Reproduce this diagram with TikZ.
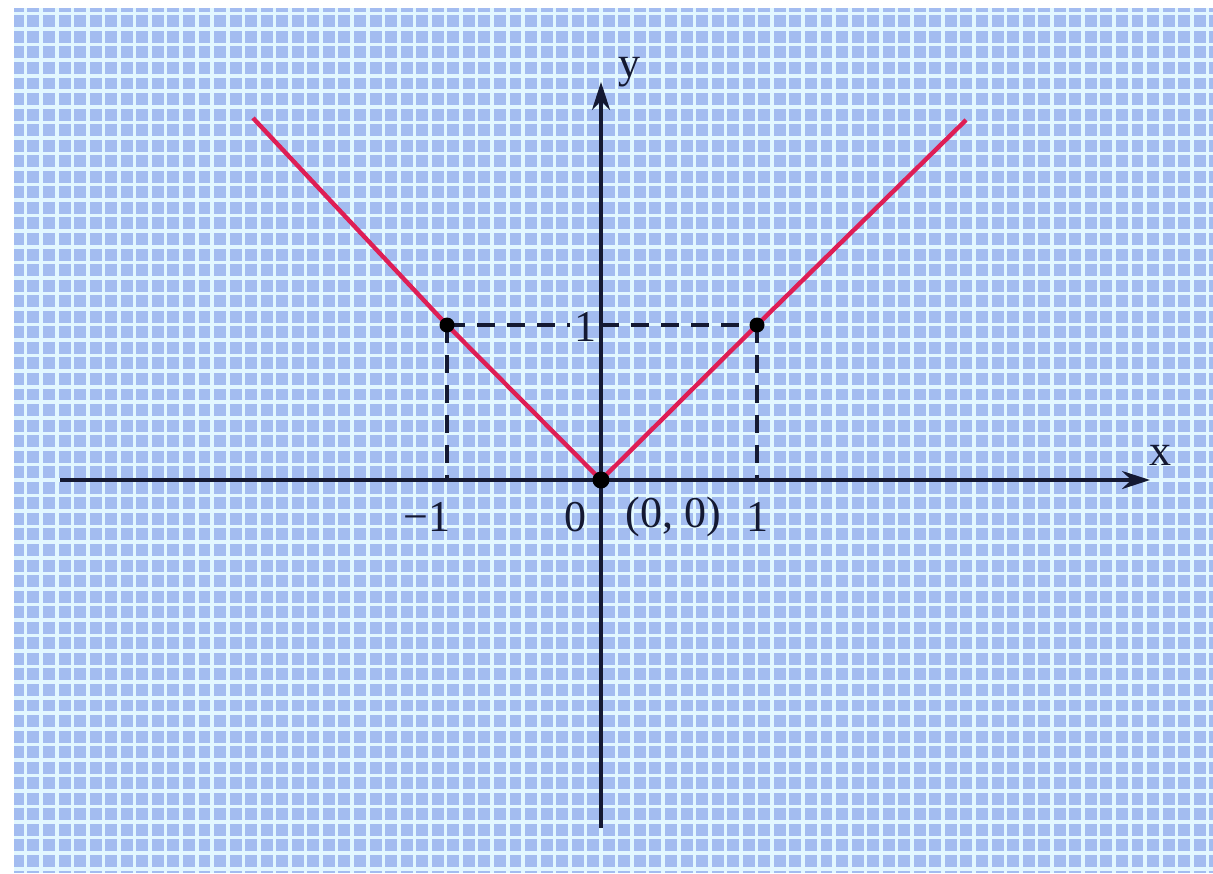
\documentclass[tikz,border=0pt]{standalone}
\usepackage{fontspec}
\setmainfont{Liberation Serif}
\usetikzlibrary{arrows.meta}
\definecolor{paperblue}{RGB}{163,188,240}
\definecolor{gridwhite}{RGB}{226,247,255}
\definecolor{vred}{RGB}{222,30,85}
\definecolor{inkc}{RGB}{20,25,50}
\tikzset{
  gridw/.style={draw=gridwhite, line width=1.8pt},
  axisline/.style={draw=inkc, line width=1.6pt, -{Stealth[length=14pt,width=9pt]}},
  vline/.style={draw=vred, line width=2.2pt},
  dashline/.style={draw=inkc, line width=1.6pt, dash pattern=on 9pt off 6pt},
  dotnode/.style={circle, fill=black, inner sep=0pt, minimum size=7.5pt},
  lab/.style={font=\fontsize{22}{26}\selectfont, inner sep=0pt, text=inkc}
}
\begin{document}
\begin{tikzpicture}[x=0.5pt,y=-0.5pt]
\useasboundingbox (0,0) rectangle (1213,873);
\fill[white] (0,0) rectangle (1213,873);
\fill[paperblue] (14,8) rectangle (1213,873);
\begin{scope}
\clip (14,8) rectangle (1213,873);
\foreach \i in {-39,...,40} \draw[gridw] ({601+\i*15.55},8) -- ++(0,865);
\foreach \j in {-31,...,26} \draw[gridw] (14,{480+\j*15.55}) -- ++(1199,0);
\end{scope}
% coordinates
\coordinate (pO) at (601,480);
\coordinate (pA) at (447,325);
\coordinate (pB) at (757,325);
\coordinate (pY) at (601,325);
\coordinate (fA) at (447,480);
\coordinate (fB) at (757,480);
\coordinate (pL) at (253,118);
\coordinate (pR) at (966,120);
\coordinate (xl) at (60,480);
\coordinate (xr) at (1150,480);
\coordinate (yb) at (601,828);
\coordinate (yt) at (601,82);
% labels
\node[lab] (xlab) at (1160,455) {x};
\node[lab] (ylab) at (629,72) {y};
\node[lab] (one) at (585,327) {1};
\node[lab] (mone) at (427,517) {−1};
\node[lab] (zero) at (575,517) {0};
\node[lab] (orig) at (673,517) {(0, 0)};
\node[lab] (onex) at (757,517) {1};
% dashed guides
\draw[dashline] (pA) -- ([xshift=-2pt]one.west |- pA);
\draw[dashline] (pY) -- (pB);
\draw[dashline] (pA) -- (fA);
\draw[dashline] (pB) -- (fB);
% axes
\draw[axisline] (xl) -- (xr);
\draw[axisline] (yb) -- (yt);
% graph
\draw[vline, line join=miter] (pL) -- (pA) -- (pO) -- (pB) -- (pR);
% dots
\node[dotnode] (dA) at (pA) {};
\node[dotnode] (dB) at (pB) {};
\node[dotnode, minimum size=8.5pt] (dO) at (pO) {};
\end{tikzpicture}
\end{document}
